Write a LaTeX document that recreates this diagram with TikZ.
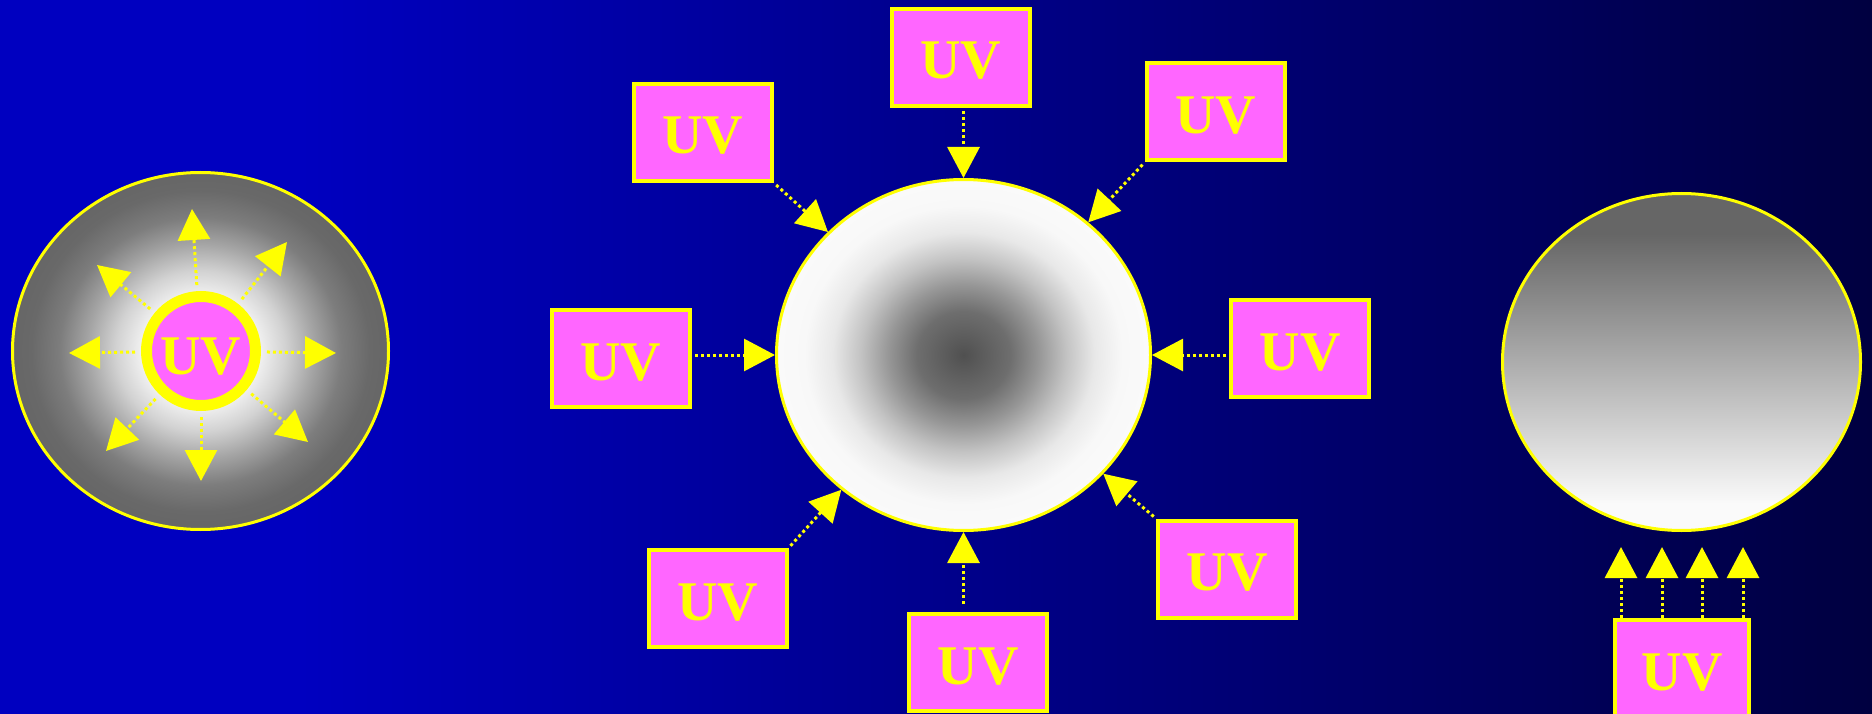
\documentclass[tikz,border=0pt]{standalone}
\usepackage{fontspec}
\setmainfont{Liberation Serif}
\usetikzlibrary{arrows.meta,shapes.geometric}
\definecolor{bgL}{RGB}{0,0,192}
\definecolor{bgR}{RGB}{0,0,64}
\definecolor{uvpink}{RGB}{255,102,255}
\definecolor{uvyel}{RGB}{255,255,0}
\definecolor{g66}{RGB}{102,102,102}
\definecolor{g50}{RGB}{80,80,80}
\definecolor{gA}{RGB}{110,110,110}
\definecolor{gB}{RGB}{150,150,150}
\definecolor{gC}{RGB}{195,195,195}
\definecolor{gD}{RGB}{232,232,232}
\definecolor{gE}{RGB}{248,248,248}
\definecolor{gL1}{RGB}{210,210,210}
\definecolor{gL2}{RGB}{165,165,165}
\definecolor{gL3}{RGB}{125,125,125}
\definecolor{gL4}{RGB}{105,105,105}
\definecolor{offw}{RGB}{250,250,250}
\pgfdeclarehorizontalshading{bgshade}{100bp}{color(0bp)=(bgL); color(33bp)=(bgL); color(75bp)=(bgR); color(100bp)=(bgR)}
\pgfdeclareradialshading{glowL}{\pgfpoint{0bp}{0bp}}{color(0bp)=(white); color(6.25bp)=(white); color(11.25bp)=(gL1); color(15bp)=(gL2); color(18.75bp)=(gL3); color(22.5bp)=(gL4); color(25bp)=(g66); color(50bp)=(g66)}
\pgfdeclareradialshading{darkM}{\pgfpoint{0bp}{0bp}}{color(0bp)=(g50); color(6.25bp)=(gA); color(10bp)=(gB); color(13.75bp)=(gC); color(17.5bp)=(gD); color(21.25bp)=(gE); color(25bp)=(offw); color(50bp)=(offw)}
\pgfdeclareverticalshading{gradR}{100bp}{color(0bp)=(offw); color(29bp)=(offw); color(69bp)=(g66); color(100bp)=(g66)}
\tikzset{
  uvbox/.style={rectangle, draw=uvyel, line width=4pt, fill=uvpink, minimum width=138pt, minimum height=97pt, inner sep=0pt, text=uvyel, font=\fontsize{56}{56}\selectfont\bfseries, text height=43pt, text depth=0pt},
  uvarr/.style={draw=uvyel, line width=3pt, dash pattern=on 3pt off 3pt, -{Triangle[length=31pt,width=32pt]}},
  bigell/.style={ellipse, draw=uvyel, line width=3pt, inner sep=0pt, shade}
}
\begin{document}
\begin{tikzpicture}[x=1pt,y=-1pt]
\useasboundingbox (0,0) rectangle (1872,714);
\shade[shading=bgshade] (0,0) rectangle (1872,714);

% left sphere
\node[bigell, shading=glowL, minimum width=376pt, minimum height=357pt] (lsph) at (200.5,351) {};
\node[circle, draw=uvyel, line width=11pt, fill=uvpink, minimum size=109pt, inner sep=0pt, text=uvyel, font=\fontsize{56}{56}\selectfont\bfseries, text height=47pt, text depth=0pt] (uvc) at (201,351) {UV};
\coordinate (aU) at (192,209);
\coordinate (aUR) at (287,242);
\coordinate (aR) at (336,353);
\coordinate (aDR) at (308,442);
\coordinate (aD) at (201,481);
\coordinate (aDL) at (106,451);
\coordinate (aL) at (69,353);
\coordinate (aUL) at (97,265);
\foreach \t in {aU,aUR,aR,aDR,aD,aDL,aL,aUL}
  \draw[uvarr, shorten <=6pt] (uvc) -- (\t);

% middle sphere
\node[bigell, shading=darkM, minimum width=374pt, minimum height=351pt] (mid) at (963.5,355) {};
\node[uvbox] (tl) at (703,132.5) {UV};
\node[uvbox] (tp) at (960.5,57.5) {UV};
\node[uvbox] (tr) at (1215.5,112) {UV};
\node[uvbox] (lf) at (621,358.5) {UV};
\node[uvbox] (rt) at (1300,348.5) {UV};
\node[uvbox] (bl) at (717.5,598.5) {UV};
\node[uvbox] (bt) at (978,662.5) {UV};
\node[uvbox] (br) at (1227,569) {UV};
\draw[uvarr, shorten <=3pt] (tl.south east) -- (mid);
\draw[uvarr, shorten <=3pt] (tp.south -| mid) -- (mid);
\draw[uvarr, shorten <=3pt] (tr.south west) -- (mid);
\draw[uvarr, shorten <=3pt] (lf.east |- mid) -- (mid);
\draw[uvarr, shorten <=3pt] (rt.west |- mid) -- (mid);
\draw[uvarr, shorten <=3pt] (bl.north east) -- (mid);
\draw[uvarr, shorten <=8pt] (bt.north -| mid) -- (mid);
\draw[uvarr, shorten <=3pt] (br.north west) -- (mid);

% right sphere
\node[bigell, shading=gradR, minimum width=358pt, minimum height=337pt] (rsph) at (1681.5,362) {};
\node[uvbox, minimum width=134pt] (rb) at (1682,668.5) {UV};
\coordinate (r1) at (1621,547);
\coordinate (r2) at (1662,547);
\coordinate (r3) at (1702,547);
\coordinate (r4) at (1743,547);
\foreach \t in {r1,r2,r3,r4}
  \draw[uvarr] (\t |- rb.north) -- (\t);
\end{tikzpicture}
\end{document}
